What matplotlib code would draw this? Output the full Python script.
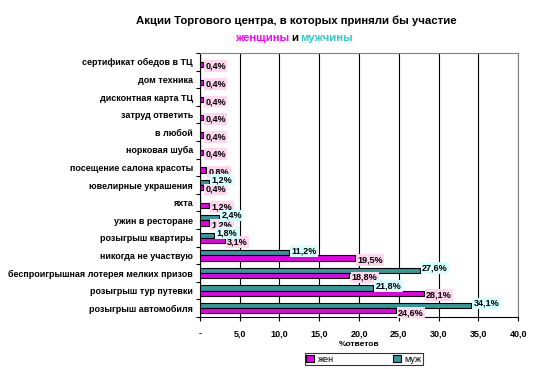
import matplotlib.pyplot as plt
import numpy as np

plt.rcParams['font.family'] = ['Liberation Sans', 'DejaVu Sans']

# categories from bottom to top
categories = [
    'розыгрыш автомобиля',
    'розыгрыш тур путевки',
    'беспроигрышная лотерея мелких призов',
    'никогда не участвую',
    'розыгрыш квартиры',
    'ужин в ресторане',
    'яхта',
    'ювелирные украшения',
    'посещение салона красоты',
    'норковая шуба',
    'в любой',
    'затруд ответить',
    'дисконтная карта ТЦ',
    'дом техника',
    'сертификат обедов в ТЦ',
]
women = [24.6, 28.1, 18.8, 19.5, 3.1, 1.2, 1.2, 0.4, 0.8, 0.4, 0.4, 0.4, 0.4, 0.4, 0.4]
men = [34.1, 21.8, 27.6, 11.2, 1.8, 2.4, 0, 1.2, 0, 0, 0, 0, 0, 0, 0]

x_ticks = [0, 5, 10, 15, 20, 25, 30, 35, 40]
x_ticklabels = ['-', '5,0', '10,0', '15,0', '20,0', '25,0', '30,0', '35,0', '40,0']

c_women = '#E600E6'
c_men = '#339999'
fs = 6.5

fig = plt.figure(figsize=(5.49, 3.69), dpi=100)
ax = fig.add_axes([0.364, 0.141, 0.58, 0.715])

y = np.arange(len(categories))
h = 0.3
bars_m = ax.barh(y + h / 2, men, h, color=c_men, edgecolor='black', linewidth=0.8, zorder=3)
bars_w = ax.barh(y - h / 2, women, h, color=c_women, edgecolor='black', linewidth=0.8, zorder=3)

for yi, v in zip(y, women):
    if v > 0:
        ax.text(v + 0.3, yi - h / 2 - 0.1, f'{v:.1f}%'.replace('.', ','), fontsize=fs,
                fontweight='bold', va='center', ha='left', zorder=4,
                bbox=dict(boxstyle='square,pad=0.15', fc='#FFD6EE', ec='none'))
for yi, v in zip(y, men):
    if v > 0:
        ax.text(v + 0.3, yi + h / 2 + 0.12, f'{v:.1f}%'.replace('.', ','), fontsize=fs,
                fontweight='bold', va='center', ha='left', zorder=4,
                bbox=dict(boxstyle='square,pad=0.15', fc='#D6FFFF', ec='none'))

ax.set_xlim(0, 40)
ax.set_ylim(-0.5, len(categories) - 0.5)
ax.set_xticks(x_ticks)
ax.set_xticklabels(x_ticklabels, fontsize=fs, fontweight='bold')
ax.set_yticks(y)
ax.set_yticklabels(categories, fontsize=fs, fontweight='bold')
ax.set_yticks(np.arange(len(categories) + 1) - 0.5, minor=True)
ax.tick_params(axis='y', which='major', length=0, pad=5)
ax.tick_params(axis='y', which='minor', length=3, width=0.8, direction='out')
ax.tick_params(axis='x', length=3, width=0.8, pad=6)
ax.xaxis.grid(True, color='black', linewidth=0.8, zorder=0)
for s in ['top', 'right']:
    ax.spines[s].set_color('#808080')
for s in ['left', 'bottom']:
    ax.spines[s].set_linewidth(0.8)
ax.set_xlabel('%ответов', fontsize=fs - 0.5, fontweight='bold', labelpad=2)

fig.text(0.54, 0.935, 'Акции Торгового центра, в которых приняли бы участие',
         ha='center', fontsize=8.2, fontweight='bold')
fig.text(0.527, 0.889, 'женщины', ha='right', fontsize=8.2, fontweight='bold', color='#FF00FF')
fig.text(0.537, 0.889, 'и', ha='center', fontsize=8.2, fontweight='bold', color='black')
fig.text(0.547, 0.889, 'мужчины', ha='left', fontsize=8.2, fontweight='bold', color='#33CCCC')

leg = fig.legend([bars_w, bars_m], ['жен', 'муж'], loc='center', bbox_to_anchor=(0.663, 0.027),
                 ncol=2, fontsize=fs, frameon=True, fancybox=False, edgecolor='black',
                 handlelength=0.9, handleheight=0.8, columnspacing=6.5, borderpad=0.15,
                 handletextpad=0.4)
leg.get_frame().set_linewidth(0.8)

fig.savefig('out.png', dpi=100)
